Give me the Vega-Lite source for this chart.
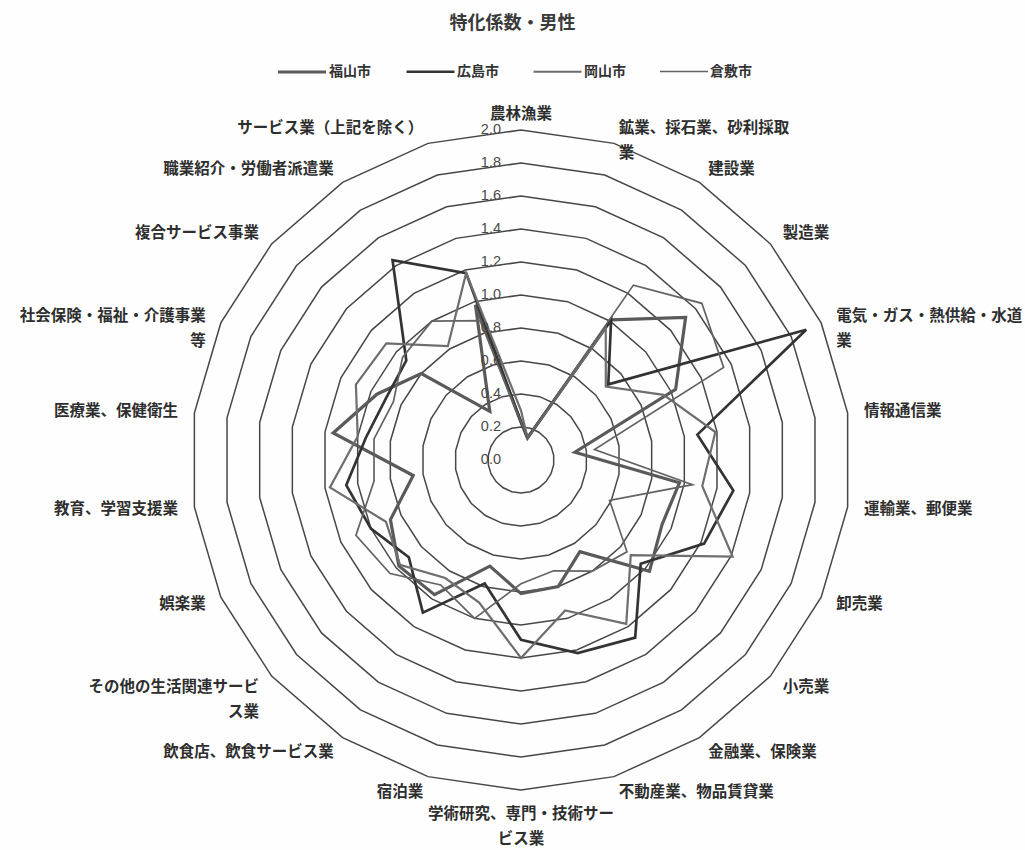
{
  "$schema": "https://vega.github.io/schema/vega-lite/v6.json",
  "width": 1025,
  "height": 850,
  "autosize": {"type": "none"},
  "padding": 0,
  "background": "#fefefe",
  "config": {"view": {"stroke": null}, "font": "Noto Sans CJK JP"},
  "title": {"text": "特化係数・男性", "fontSize": 18, "fontWeight": "bold", "color": "#3a3a3a", "anchor": "middle", "offset": -33, "font": "Noto Sans CJK JP"},
  "datasets": {
    "main": [
      {"idx": 0, "cat": "農林漁業", "label": "農林漁業", "福山市": 0.23, "広島市": 0.23, "岡山市": 0.30, "倉敷市": 0.23},
      {"idx": 1, "cat": "鉱業、採石業、砂利採取業", "label": "鉱業、採石業、砂利採取\n業", "福山市": 0.14, "広島市": 0.14, "岡山市": 0.14, "倉敷市": 0.14},
      {"idx": 2, "cat": "建設業", "label": "建設業", "福山市": 1.01, "広島市": 1.01, "岡山市": 0.95, "倉敷市": 1.26},
      {"idx": 3, "cat": "製造業", "label": "製造業", "福山市": 1.32, "広島市": 0.70, "岡山市": 0.68, "倉敷市": 1.45},
      {"idx": 4, "cat": "電気・ガス・熱供給・水道業", "label": "電気・ガス・熱供給・水道\n業", "福山市": 1.03, "広島市": 1.90, "岡山市": 0.95, "倉敷市": 1.35},
      {"idx": 5, "cat": "情報通信業", "label": "情報通信業", "福山市": 0.33, "広島市": 1.08, "岡山市": 1.19, "倉敷市": 0.45},
      {"idx": 6, "cat": "運輸業、郵便業", "label": "運輸業、郵便業", "福山市": 0.97, "広島市": 1.30, "岡山市": 1.11, "倉敷市": 1.05},
      {"idx": 7, "cat": "卸売業", "label": "卸売業", "福山市": 0.94, "広島市": 1.22, "岡山市": 1.41, "倉敷市": 0.59},
      {"idx": 8, "cat": "小売業", "label": "小売業", "福山市": 1.03, "広島市": 0.96, "岡山市": 0.88, "倉敷市": 0.85},
      {"idx": 9, "cat": "金融業、保険業", "label": "金融業、保険業", "福山市": 0.66, "広島市": 1.28, "岡山市": 1.18, "倉敷市": 0.80},
      {"idx": 10, "cat": "不動産業、物品賃貸業", "label": "不動産業、物品賃貸業", "福山市": 0.80, "広島市": 1.22, "岡山市": 0.95, "倉敷市": 0.70},
      {"idx": 11, "cat": "学術研究、専門・技術サービス業", "label": "学術研究、専門・技術サー\nビス業", "福山市": 0.81, "広島市": 1.09, "岡山市": 1.20, "倉敷市": 0.75},
      {"idx": 12, "cat": "宿泊業", "label": "宿泊業", "福山市": 0.67, "広島市": 0.78, "岡山市": 0.90, "倉敷市": 1.00},
      {"idx": 13, "cat": "飲食店、飲食サービス業", "label": "飲食店、飲食サービス業", "福山市": 0.97, "広島市": 1.10, "岡山市": 0.85, "倉敷市": 0.90},
      {"idx": 14, "cat": "その他の生活関連サービス業", "label": "その他の生活関連サービ\nス業", "福山市": 0.98, "広島市": 0.90, "岡山市": 0.97, "倉敷市": 1.05},
      {"idx": 15, "cat": "娯楽業", "label": "娯楽業", "福山市": 0.87, "広島市": 1.00, "岡山市": 0.90, "倉敷市": 1.10},
      {"idx": 16, "cat": "教育、学習支援業", "label": "教育、学習支援業", "福山市": 0.66, "広島市": 1.07, "岡山市": 1.17, "倉敷市": 0.90},
      {"idx": 17, "cat": "医療業、保健衛生", "label": "医療業、保健衛生", "福山市": 1.15, "広島市": 0.95, "岡山市": 1.00, "倉敷市": 0.90},
      {"idx": 18, "cat": "社会保険・福祉・介護事業等", "label": "社会保険・福祉・介護事業\n等", "福山市": 0.96, "広島市": 0.90, "岡山市": 1.10, "倉敷市": 0.85},
      {"idx": 19, "cat": "複合サービス事業", "label": "複合サービス事業", "福山市": 0.80, "広島市": 0.92, "岡山市": 1.08, "倉敷市": 0.95},
      {"idx": 20, "cat": "職業紹介・労働者派遣業", "label": "職業紹介・労働者派遣業", "福山市": 0.35, "広島市": 1.44, "岡山市": 0.82, "倉敷市": 1.00},
      {"idx": 21, "cat": "サービス業（上記を除く）", "label": "サービス業（上記を除く）", "福山市": 0.98, "広島市": 1.18, "岡山市": 1.18, "倉敷市": 0.88}
    ],
    "rings": [
      {"level": 0.2, "k": [0,1,2,3,4,5,6,7,8,9,10,11,12,13,14,15,16,17,18,19,20,21]},
      {"level": 0.4, "k": [0,1,2,3,4,5,6,7,8,9,10,11,12,13,14,15,16,17,18,19,20,21]},
      {"level": 0.6, "k": [0,1,2,3,4,5,6,7,8,9,10,11,12,13,14,15,16,17,18,19,20,21]},
      {"level": 0.8, "k": [0,1,2,3,4,5,6,7,8,9,10,11,12,13,14,15,16,17,18,19,20,21]},
      {"level": 1.0, "k": [0,1,2,3,4,5,6,7,8,9,10,11,12,13,14,15,16,17,18,19,20,21]},
      {"level": 1.2, "k": [0,1,2,3,4,5,6,7,8,9,10,11,12,13,14,15,16,17,18,19,20,21]},
      {"level": 1.4, "k": [0,1,2,3,4,5,6,7,8,9,10,11,12,13,14,15,16,17,18,19,20,21]},
      {"level": 1.6, "k": [0,1,2,3,4,5,6,7,8,9,10,11,12,13,14,15,16,17,18,19,20,21]},
      {"level": 1.8, "k": [0,1,2,3,4,5,6,7,8,9,10,11,12,13,14,15,16,17,18,19,20,21]},
      {"level": 2.0, "k": [0,1,2,3,4,5,6,7,8,9,10,11,12,13,14,15,16,17,18,19,20,21]}
    ],
    "ticks": [
      {"v": 0.0, "t": "0.0"}, {"v": 0.2, "t": "0.2"}, {"v": 0.4, "t": "0.4"}, {"v": 0.6, "t": "0.6"},
      {"v": 0.8, "t": "0.8"}, {"v": 1.0, "t": "1.0"}, {"v": 1.2, "t": "1.2"}, {"v": 1.4, "t": "1.4"},
      {"v": 1.6, "t": "1.6"}, {"v": 1.8, "t": "1.8"}, {"v": 2.0, "t": "2.0"}
    ]
  },
  "layer": [
    {
      "data": {"name": "rings"},
      "transform": [
        {"flatten": ["k"]},
        {"calculate": "datum.k * 2 * PI / 22", "as": "ang"},
        {"calculate": "datum.level * sin(datum.ang)", "as": "x"},
        {"calculate": "datum.level * cos(datum.ang)", "as": "y"}
      ],
      "mark": {"type": "line", "interpolate": "linear-closed", "color": "#474747", "strokeWidth": 1.5},
      "encoding": {
        "x": {"field": "x", "type": "quantitative", "scale": {"domain": [-3.1576, 3.0545], "nice": false, "zero": false}, "axis": null},
        "y": {"field": "y", "type": "quantitative", "scale": {"domain": [-2.3636, 2.7879], "nice": false, "zero": false}, "axis": null},
        "detail": {"field": "level", "type": "nominal"},
        "order": {"field": "k", "type": "quantitative"}
      }
    },
    {
      "data": {"name": "main"},
      "transform": [
        {"fold": ["福山市", "広島市", "岡山市", "倉敷市"], "as": ["city", "value"]},
        {"calculate": "datum.idx * 2 * PI / 22", "as": "ang"},
        {"calculate": "datum.value * sin(datum.ang)", "as": "x"},
        {"calculate": "datum.value * cos(datum.ang)", "as": "y"}
      ],
      "mark": {"type": "line", "interpolate": "linear-closed", "strokeJoin": "miter"},
      "encoding": {
        "x": {"field": "x", "type": "quantitative"},
        "y": {"field": "y", "type": "quantitative"},
        "order": {"field": "idx", "type": "quantitative"},
        "color": {
          "field": "city", "type": "nominal",
          "scale": {"domain": ["福山市", "広島市", "岡山市", "倉敷市"], "range": ["#5a5a5a", "#333333", "#6e6e6e", "#636363"]},
          "legend": {
            "orient": "none", "legendX": 276, "legendY": 46, "direction": "horizontal", "title": null,
            "symbolType": "stroke", "symbolSize": 2300, "symbolStrokeWidth": 3,
            "labelFontSize": 14, "labelFontWeight": "bold", "labelColor": "#333", "labelFont": "Noto Sans CJK JP",
            "columnPadding": 30, "labelOffset": 1
          }
        },
        "strokeWidth": {
          "field": "city", "type": "nominal",
          "scale": {"domain": ["福山市", "広島市", "岡山市", "倉敷市"], "range": [3.2, 1.7, 2.4, 2.4]},
          "legend": null
        }
      }
    },
    {
      "data": {"name": "ticks"},
      "mark": {"type": "text", "align": "right", "baseline": "middle", "dx": -20, "fontSize": 14.5, "color": "#4a4a4a", "font": "Liberation Sans"},
      "encoding": {
        "x": {"datum": 0, "type": "quantitative"},
        "y": {"field": "v", "type": "quantitative"},
        "text": {"field": "t"}
      }
    },
    {
      "data": {"name": "main"},
      "transform": [
        {"calculate": "datum.idx * 2 * PI / 22", "as": "ang"},
        {"calculate": "2.1 * sin(datum.ang)", "as": "lx"},
        {"calculate": "2.1 * cos(datum.ang)", "as": "ly"},
        {"filter": "datum.idx >= 1 && datum.idx <= 10"}
      ],
      "mark": {"type": "text", "align": "left", "baseline": "middle", "lineBreak": "\n", "fontSize": 15.5, "fontWeight": "bold", "color": "#2e2e2e", "lineHeight": 25},
      "encoding": {
        "x": {"field": "lx", "type": "quantitative"},
        "y": {"field": "ly", "type": "quantitative"},
        "text": {"field": "label"}
      }
    },
    {
      "data": {"name": "main"},
      "transform": [
        {"calculate": "datum.idx * 2 * PI / 22", "as": "ang"},
        {"calculate": "2.1 * sin(datum.ang)", "as": "lx"},
        {"calculate": "2.1 * cos(datum.ang)", "as": "ly"},
        {"filter": "datum.idx >= 12"}
      ],
      "mark": {"type": "text", "align": "right", "baseline": "middle", "lineBreak": "\n", "fontSize": 15.5, "fontWeight": "bold", "color": "#2e2e2e", "lineHeight": 25},
      "encoding": {
        "x": {"field": "lx", "type": "quantitative"},
        "y": {"field": "ly", "type": "quantitative"},
        "text": {"field": "label"}
      }
    },
    {
      "data": {"name": "main"},
      "transform": [
        {"calculate": "datum.idx * 2 * PI / 22", "as": "ang"},
        {"calculate": "2.1 * sin(datum.ang)", "as": "lx"},
        {"calculate": "2.1 * cos(datum.ang)", "as": "ly"},
        {"filter": "datum.idx == 0"}
      ],
      "mark": {"type": "text", "align": "center", "baseline": "middle", "fontSize": 15.5, "fontWeight": "bold", "color": "#2e2e2e"},
      "encoding": {
        "x": {"field": "lx", "type": "quantitative"},
        "y": {"field": "ly", "type": "quantitative"},
        "text": {"field": "label"}
      }
    },
    {
      "data": {"name": "main"},
      "transform": [
        {"calculate": "datum.idx * 2 * PI / 22", "as": "ang"},
        {"calculate": "2.1 * sin(datum.ang)", "as": "lx"},
        {"calculate": "2.1 * cos(datum.ang)", "as": "ly"},
        {"filter": "datum.idx == 11"}
      ],
      "mark": {"type": "text", "align": "center", "baseline": "top", "lineBreak": "\n", "fontSize": 15.5, "fontWeight": "bold", "color": "#2e2e2e", "lineHeight": 25},
      "encoding": {
        "x": {"field": "lx", "type": "quantitative"},
        "y": {"field": "ly", "type": "quantitative"},
        "text": {"field": "label"}
      }
    }
  ]
}
